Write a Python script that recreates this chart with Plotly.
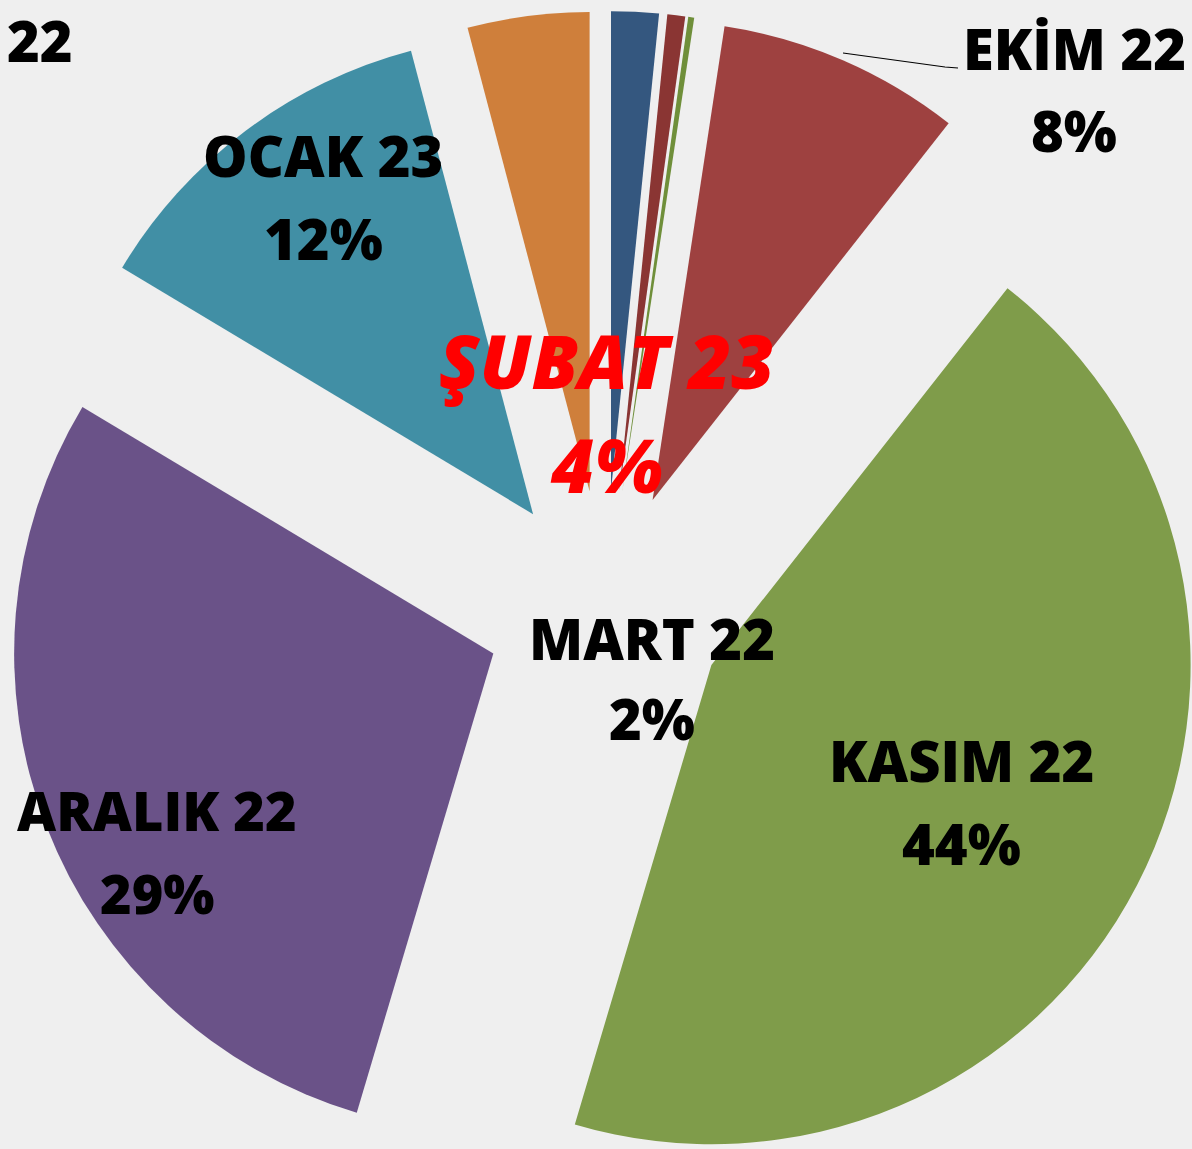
import plotly.graph_objects as go

# monthly shares (%), clockwise from 12 o'clock
months = ["MART 22", "NİSAN 22", "MAYIS 22", "EKİM 22", "KASIM 22", "ARALIK 22", "OCAK 23", "ŞUBAT 23"]
shares = [1.6, 0.6, 0.2, 8.2, 44.0, 29.0, 12.3, 4.1]
labelled = ["MART 22", "EKİM 22", "KASIM 22", "ARALIK 22", "OCAK 23", "ŞUBAT 23"]
title_fragment = "22"

slice_colors = ["#34577f", "#8a3533", "#6f8f3a", "#9e4140", "#7f9c4a", "#6a5288", "#418fa5", "#cf7f3b"]

# canvas is a bit larger than the window so the exploded pie can sit where the original does
W, H = 1204, 1220
VIEW_W, VIEW_H = 1192, 1149
PIE_BOX = 1198

# label centres in pixels: (name x, name y, pct y)
label_pos = {
    "MART 22": (652, 638, 718),
    "EKİM 22": (1074, 48, 130),
    "KASIM 22": (961, 760, 843),
    "ARALIK 22": (157, 810, 893),
    "OCAK 23": (323, 155, 238),
    "ŞUBAT 23": (606, 360, 465),
}


def px(x, y):
    return x / W, 1 - y / H


fig = go.Figure(
    go.Pie(
        labels=months,
        values=shares,
        sort=False,
        direction="clockwise",
        rotation=0,
        pull=[0.25] * len(months),
        marker=dict(colors=slice_colors, line=dict(width=0)),
        textinfo="none",
        hoverinfo="label+percent",
        showlegend=False,
        domain=dict(x=[1 - PIE_BOX / W, 1], y=[0, 1]),
    )
)

annotations = []
for name in labelled:
    v = shares[months.index(name)]
    lx, ly, py = label_pos[name]
    if name == "ŞUBAT 23":
        font = dict(family="Open Sans", size=74, color="#ff0000", style="italic", weight=800)
    elif name == "ARALIK 22":
        font = dict(family="Open Sans", size=54, color="#000000", weight=800)
    else:
        font = dict(family="Open Sans", size=56, color="#000000", weight=800)
    for txt, yy in [(name, ly), (f"{round(v)}%", py)]:
        x, y = px(lx, yy)
        annotations.append(dict(
            x=x, y=y, xref="paper", yref="paper", text=txt,
            showarrow=False, xanchor="center", yanchor="middle", font=font,
        ))

x, y = px(40, 0)
annotations.append(dict(
    x=x, y=y, xref="paper", yref="paper", text=title_fragment,
    showarrow=False, xanchor="center", yanchor="top",
    font=dict(family="Open Sans", size=56, color="#000000", weight=800),
))

x0, y0 = px(843, 53)
x1, y1 = px(945, 67)
x2, y2 = px(958, 68)
fig.add_shape(type="path", xref="paper", yref="paper",
              path=f"M {x0} {y0} L {x1} {y1} L {x2} {y2}",
              line=dict(color="#000000", width=1.2))

fig.update_layout(
    width=W,
    height=H,
    margin=dict(l=0, r=0, t=0, b=0),
    paper_bgcolor="#efefef",
    plot_bgcolor="#efefef",
    annotations=annotations,
)

post = (
    "document.documentElement.style.overflow='hidden';"
    "document.body.style.margin='0';"
    "var g=document.getElementById('{plot_id}');"
    f"g.parentElement.style.width='{VIEW_W}px';"
    f"g.parentElement.style.height='{VIEW_H}px';"
    "g.parentElement.style.overflow='hidden';"
)
fig.write_html("out.html", post_script=post, config={"displayModeBar": False})
